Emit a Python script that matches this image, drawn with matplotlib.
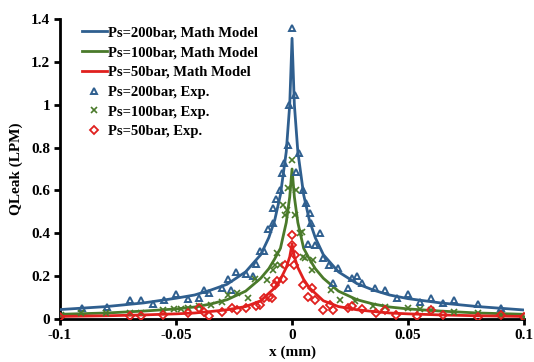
import matplotlib
matplotlib.use("Agg")
import matplotlib.pyplot as plt
from matplotlib.ticker import FuncFormatter

# model curves
model_x = [-0.1, -0.08, -0.064, -0.05, -0.042, -0.035, -0.028, -0.02, -0.0135, -0.01,
           -0.0075, -0.005, -0.0025, -0.001, 0.0, 0.001, 0.0025, 0.005, 0.0075, 0.01,
           0.0135, 0.02, 0.028, 0.035, 0.042, 0.05, 0.064, 0.08, 0.1]
model_200 = [0.044, 0.058, 0.075, 0.097, 0.112, 0.135, 0.162, 0.22, 0.30, 0.38,
             0.46, 0.58, 0.78, 1.0, 1.31, 1.0, 0.78, 0.58, 0.46, 0.38,
             0.30, 0.22, 0.165, 0.135, 0.112, 0.095, 0.075, 0.058, 0.042]
model_100 = [0.022, 0.028, 0.037, 0.047, 0.056, 0.07, 0.09, 0.13, 0.19, 0.235,
             0.28, 0.33, 0.45, 0.57, 0.70, 0.57, 0.45, 0.33, 0.28, 0.235,
             0.19, 0.13, 0.09, 0.07, 0.056, 0.047, 0.037, 0.028, 0.022]
model_50 = [0.012, 0.015, 0.019, 0.024, 0.028, 0.035, 0.043, 0.058, 0.085, 0.12,
            0.145, 0.185, 0.24, 0.29, 0.35, 0.29, 0.24, 0.185, 0.145, 0.12,
            0.085, 0.058, 0.043, 0.035, 0.028, 0.024, 0.019, 0.015, 0.012]

# experimental points
exp200_x = [-0.0905, -0.0797, -0.070, -0.065, -0.060, -0.055, -0.050, -0.045, -0.040, -0.038,
            -0.036, -0.030, -0.0275, -0.0265, -0.024, -0.020, -0.017, -0.0155, -0.014, -0.012,
            -0.0105, -0.0082, -0.0082, -0.0069, -0.0052, -0.0043, -0.0034, -0.0017, -0.0013, 0.0,
            0.0013, 0.0017, 0.003, 0.0047, 0.006, 0.0078, 0.0082, 0.012, 0.0069, 0.0099,
            0.0134, 0.016, 0.0198, 0.0177, 0.024, 0.0259, 0.028, 0.030, 0.0358, 0.040,
            0.0453, 0.050, 0.055, 0.060, 0.065, 0.070, 0.080, 0.090]
exp200_y = [0.051, 0.056, 0.089, 0.089, 0.072, 0.089, 0.117, 0.095, 0.100, 0.135,
            0.120, 0.145, 0.187, 0.133, 0.218, 0.210, 0.200, 0.258, 0.318, 0.315,
            0.420, 0.450, 0.520, 0.560, 0.600, 0.680, 0.730, 0.810, 1.000, 1.360,
            1.045, 0.686, 0.775, 0.600, 0.540, 0.495, 0.450, 0.400, 0.350, 0.345,
            0.285, 0.252, 0.238, 0.168, 0.145, 0.191, 0.200, 0.168, 0.145, 0.135,
            0.098, 0.117, 0.079, 0.098, 0.075, 0.089, 0.070, 0.051]

exp100_x = [-0.0996, -0.091, -0.080, -0.070, -0.065, -0.0556, -0.051, -0.048, -0.045, -0.040,
            -0.035, -0.030, -0.0276, -0.0237, -0.019, -0.016, -0.0108, -0.008, -0.0073, -0.0065,
            -0.005, -0.004, -0.003, -0.002, -0.0017, 0.0, 0.0013, 0.0017, 0.0034, 0.0043,
            0.0047, 0.0056, 0.009, 0.0086, 0.0168, 0.0207, 0.027, 0.035, 0.040, 0.050,
            0.055, 0.060, 0.070, 0.080, 0.090, 0.100]
exp100_y = [0.019, 0.028, 0.028, 0.030, 0.030, 0.042, 0.047, 0.047, 0.051, 0.060,
            0.065, 0.079, 0.112, 0.122, 0.100, 0.185, 0.180, 0.230, 0.252, 0.310,
            0.250, 0.530, 0.485, 0.510, 0.610, 0.740, 0.485, 0.600, 0.400, 0.405,
            0.290, 0.285, 0.275, 0.230, 0.135, 0.089, 0.084, 0.061, 0.056, 0.051,
            0.047, 0.042, 0.033, 0.028, 0.019, 0.010]

exp50_x = [-0.100, -0.070, -0.065, -0.0556, -0.045, -0.040, -0.038, -0.036, -0.030, -0.026,
           -0.0237, -0.020, -0.0155, -0.0138, -0.012, -0.0099, -0.0086, -0.0073, -0.0065, -0.0039,
           -0.003, 0.0, 0.0, 0.0013, 0.0009, 0.0047, 0.0086, 0.0069, 0.0099, 0.0164,
           0.0134, 0.0177, 0.024, 0.026, 0.030, 0.036, 0.040, 0.045, 0.054, 0.060,
           0.065, 0.080, 0.090, 0.100]
exp50_y = [0.010, 0.012, 0.012, 0.019, 0.028, 0.051, 0.033, 0.012, 0.033, 0.051,
           0.042, 0.051, 0.061, 0.065, 0.098, 0.103, 0.100, 0.160, 0.177, 0.187,
           0.250, 0.390, 0.345, 0.300, 0.250, 0.159, 0.145, 0.103, 0.089, 0.065,
           0.042, 0.042, 0.051, 0.061, 0.047, 0.028, 0.042, 0.019, 0.012, 0.042,
           0.019, 0.010, 0.019, 0.010]

blue = "#2F5F8F"
green = "#4A7A2A"
red = "#E0201E"

plt.rcParams['font.family'] = ['Liberation Serif', 'DejaVu Serif']
plt.rcParams['font.weight'] = 'bold'

fig = plt.figure(figsize=(5.34, 3.62), dpi=100)
ax = fig.add_axes([0.1124, 0.1188, 0.869, 0.8287])

ax.plot(model_x, model_200, color=blue, lw=2, label="Ps=200bar, Math Model", zorder=3)
ax.plot(model_x, model_100, color=green, lw=2, label="Ps=100bar, Math Model", zorder=3)
ax.plot(model_x, model_50, color=red, lw=2, label="Ps=50bar, Math Model", zorder=3)
ax.plot(exp200_x, exp200_y, ls="none", marker="^", ms=5, mfc="none", mec=blue, mew=1.4,
        label="Ps=200bar, Exp.", zorder=4)
ax.plot(exp100_x, exp100_y, ls="none", marker="x", ms=4, mec=green, mew=1.2,
        label="Ps=100bar, Exp.", zorder=4)
ax.plot(exp50_x, exp50_y, ls="none", marker="D", ms=4, mfc="none", mec=red, mew=1.3,
        label="Ps=50bar, Exp.", zorder=4)

ax.set_xlim(-0.1, 0.1)
ax.set_ylim(0, 1.4)
ax.set_xticks([-0.1, -0.05, 0, 0.05, 0.1])
ax.set_yticks([0, 0.2, 0.4, 0.6, 0.8, 1.0, 1.2, 1.4])
ax.xaxis.set_major_formatter(FuncFormatter(lambda v, p: f"{v:g}"))
ax.yaxis.set_major_formatter(FuncFormatter(lambda v, p: f"{v:g}"))
ax.tick_params(labelsize=11, width=2, length=4, direction="out", pad=3)

for s in ["top", "right"]:
    ax.spines[s].set_visible(False)
for s in ["left", "bottom"]:
    ax.spines[s].set_linewidth(2)

ax.set_xlabel("x (mm)", fontsize=11, fontweight="bold")
ax.xaxis.set_label_coords(0.5, -0.088)
ax.set_ylabel("QLeak (LPM)", fontsize=11, fontweight="bold", labelpad=6)

ax.legend(loc="upper left", bbox_to_anchor=(0.025, 1.01), frameon=False, fontsize=10.5,
          handlelength=1.7, handletextpad=0.1, labelspacing=0.45, borderaxespad=0.3)

plt.savefig("out.png", dpi=100)
